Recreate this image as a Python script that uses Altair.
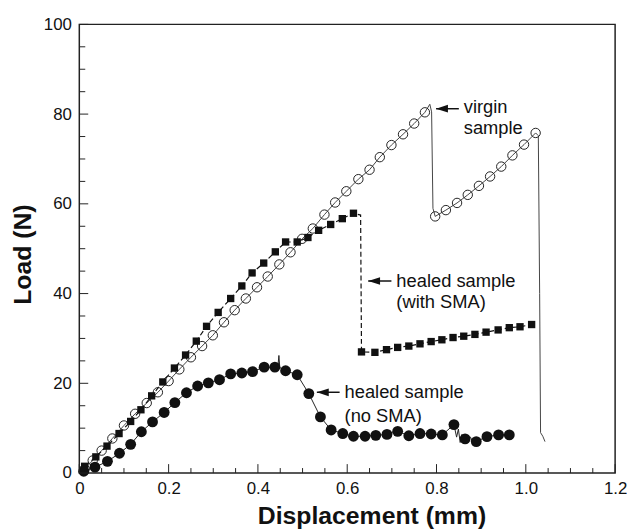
import altair as alt
import pandas as pd

# ---------------- data ----------------
virgin_x = [0.000, 0.012, 0.030, 0.050, 0.074, 0.100, 0.125, 0.151, 0.176, 0.200,
            0.224, 0.250, 0.275, 0.299, 0.324, 0.348, 0.373, 0.398, 0.422, 0.448,
            0.473, 0.499, 0.523, 0.549, 0.573, 0.598, 0.625, 0.650, 0.673, 0.699,
            0.725, 0.750, 0.774, 0.785, 0.789, 0.792, 0.797, 0.821, 0.846, 0.870,
            0.895, 0.920, 0.945, 0.970, 0.996, 1.022, 1.028, 1.031, 1.033, 1.038, 1.043]
virgin_y = [0.0, 0.9, 2.8, 5.0, 7.7, 10.6, 13.2, 15.6, 18.0, 20.5,
            23.1, 25.8, 28.3, 30.7, 33.6, 36.3, 38.9, 41.4, 43.8, 46.5,
            49.2, 52.2, 54.5, 57.6, 60.3, 62.8, 65.5, 67.6, 70.4, 73.1,
            75.5, 77.9, 80.4, 82.2, 80.5, 59.0, 57.2, 58.6, 60.2, 62.0,
            64.0, 66.1, 68.3, 70.8, 73.2, 75.8, 75.2, 40.0, 9.0, 8.2, 7.0]
virgin_mark = [0, 1, 1, 1, 1, 1, 1, 1, 1, 1,
               1, 1, 1, 1, 1, 1, 1, 1, 1, 1,
               1, 1, 1, 1, 1, 1, 1, 1, 1, 1,
               1, 1, 1, 0, 0, 0, 1, 1, 1, 1,
               1, 1, 1, 1, 1, 1, 0, 0, 0, 0, 0]

sma_x = [0.000, 0.012, 0.037, 0.062, 0.089, 0.115, 0.138, 0.162, 0.187, 0.213,
         0.238, 0.262, 0.285, 0.311, 0.339, 0.364, 0.387, 0.413, 0.439, 0.462,
         0.488, 0.512, 0.536, 0.563, 0.589, 0.614, 0.630, 0.632, 0.662, 0.688,
         0.713, 0.738, 0.763, 0.788, 0.812, 0.837, 0.861, 0.886, 0.911, 0.938,
         0.963, 0.987, 1.013]
sma_y = [0.5, 1.5, 3.6, 6.0, 8.8, 11.5, 14.1, 17.2, 20.3, 23.4,
         26.3, 29.4, 32.7, 35.8, 38.9, 41.7, 44.6, 46.8, 49.3, 51.5,
         51.5, 52.5, 54.1, 55.4, 56.7, 57.9, 57.5, 27.0, 26.9, 27.5,
         28.0, 28.3, 28.8, 29.3, 29.7, 30.2, 30.5, 30.9, 31.4, 31.9,
         32.4, 32.6, 33.1]
sma_mark = [0, 1, 1, 1, 1, 1, 1, 1, 1, 1,
            1, 1, 1, 1, 1, 1, 1, 1, 1, 1,
            1, 1, 1, 1, 1, 1, 0, 1, 1, 1,
            1, 1, 1, 1, 1, 1, 1, 1, 1, 1,
            1, 1, 1]

nosma_x = [0.000, 0.010, 0.035, 0.063, 0.090, 0.115, 0.139, 0.164, 0.190, 0.214,
           0.240, 0.265, 0.289, 0.314, 0.339, 0.364, 0.388, 0.414, 0.438, 0.445,
           0.447, 0.449, 0.462, 0.488, 0.514, 0.540, 0.564, 0.590, 0.614, 0.640,
           0.664, 0.689, 0.713, 0.738, 0.763, 0.788, 0.813, 0.839, 0.845, 0.849,
           0.853, 0.857, 0.864, 0.876, 0.880, 0.889, 0.913, 0.939, 0.963]
nosma_y = [0.0, 0.4, 1.3, 2.6, 4.4, 6.4, 9.2, 11.4, 13.5, 15.7,
           17.9, 19.4, 20.1, 20.8, 22.1, 22.3, 22.6, 23.6, 23.6, 24.0,
           26.2, 23.5, 22.8, 21.9, 17.7, 12.5, 9.6, 8.8, 8.2, 8.2,
           8.4, 8.6, 9.3, 8.3, 8.8, 8.7, 8.5, 10.8, 8.0, 9.8,
           6.8, 8.6, 7.6, 8.0, 7.2, 7.0, 8.1, 8.5, 8.5]
nosma_mark = [0, 1, 1, 1, 1, 1, 1, 1, 1, 1,
              1, 1, 1, 1, 1, 1, 1, 1, 1, 0,
              0, 0, 1, 1, 1, 1, 1, 1, 1, 1,
              1, 1, 1, 1, 1, 1, 1, 1, 0, 0,
              0, 0, 1, 0, 0, 1, 1, 1, 1]

x_major = [0, 0.2, 0.4, 0.6, 0.8, 1.0, 1.2]
x_minor = [0.05, 0.1, 0.15, 0.25, 0.3, 0.35, 0.45, 0.5, 0.55, 0.65, 0.7, 0.75,
           0.85, 0.9, 0.95, 1.05, 1.1, 1.15]
y_major = [0, 20, 40, 60, 80, 100]
y_minor = [5, 10, 15, 25, 30, 35, 45, 50, 55, 65, 70, 75, 85, 90, 95]

ann_text = ["virgin", "sample", "healed sample", "(with SMA)", "healed sample", "(no SMA)"]
ann_text_x = [0.861, 0.861, 0.710, 0.710, 0.594, 0.594]
ann_text_y = [81.5, 76.8, 42.8, 38.0, 18.0, 12.8]
arrow_tip_x = [0.799, 0.647, 0.532]
arrow_tip_y = [81.2, 42.8, 18.0]
arrow_end_x = [0.850, 0.699, 0.583]

FONT = "Liberation Sans"
W, H = 541, 453

# ---------------- frames ----------------
def series_df(xs, ys, ms):
    return pd.DataFrame({"x": xs, "y": ys, "m": ms, "i": list(range(len(xs)))})

virgin = series_df(virgin_x, virgin_y, virgin_mark)
sma = series_df(sma_x, sma_y, sma_mark)
nosma = series_df(nosma_x, nosma_y, nosma_mark)

xticks = pd.DataFrame({"x": x_major + x_minor,
                       "len": [9] * len(x_major) + [5] * len(x_minor)})
yticks = pd.DataFrame({"y": y_major + y_minor,
                       "len": [9] * len(y_major) + [6] * len(y_minor)})
texts = pd.DataFrame({"x": ann_text_x, "y": ann_text_y, "t": ann_text})
arrows = pd.DataFrame({"x": arrow_tip_x, "y": arrow_tip_y, "x2": arrow_end_x})

xscale = alt.Scale(domain=[0, 1.2], nice=False, zero=False)
yscale = alt.Scale(domain=[0, 100], nice=False, zero=False)
xaxis = alt.Axis(values=x_major, title="Displacement (mm)", titleX=295,
                 titlePadding=7,
                 labelExpr="datum.value == 0 ? '0' : format(datum.value, '.1f')")
yaxis = alt.Axis(values=y_major, title="Load (N)", titleY=232, titlePadding=8)


def X(f="x"):
    return alt.X(f"{f}:Q", scale=xscale, axis=xaxis)


def Y(f="y"):
    return alt.Y(f"{f}:Q", scale=yscale, axis=yaxis)


base_v = alt.Chart(virgin)
base_s = alt.Chart(sma)
base_n = alt.Chart(nosma)

virgin_line = base_v.mark_line(color="#444", strokeWidth=1).encode(
    x=X(), y=Y(), order="i:Q")
virgin_pts = base_v.transform_filter("datum.m == 1").mark_point(
    shape="circle", filled=False, size=90, stroke="#222", strokeWidth=1, opacity=1
).encode(x=X(), y=Y())

sma_line = base_s.mark_line(color="#111", strokeWidth=1.2, strokeDash=[5, 3]).encode(
    x=X(), y=Y(), order="i:Q")
sma_pts = base_s.transform_filter("datum.m == 1").mark_square(
    size=55, color="#111", opacity=1).encode(x=X(), y=Y())

nosma_line = base_n.mark_line(color="#222", strokeWidth=1).encode(
    x=X(), y=Y(), order="i:Q")
nosma_pts = base_n.transform_filter("datum.m == 1").mark_point(
    shape="circle", filled=True, size=120, color="#111", opacity=1
).encode(x=X(), y=Y())

# inward ticks
xtick_major = alt.Chart(xticks).transform_filter("datum.len == 9").mark_rule(
    color="#222", strokeWidth=1).encode(x=X(), y=alt.value(H), y2=alt.value(H - 9))
xtick_minor = alt.Chart(xticks).transform_filter("datum.len == 5").mark_rule(
    color="#222", strokeWidth=1).encode(x=X(), y=alt.value(H), y2=alt.value(H - 5))
ytick_major = alt.Chart(yticks).transform_filter("datum.len == 9").mark_rule(
    color="#222", strokeWidth=1).encode(y=Y(), x=alt.value(0), x2=alt.value(9))
ytick_minor = alt.Chart(yticks).transform_filter("datum.len == 6").mark_rule(
    color="#222", strokeWidth=1).encode(y=Y(), x=alt.value(0), x2=alt.value(6))

arrow_shaft = alt.Chart(arrows).mark_rule(color="#111", strokeWidth=1.5).encode(
    x=X(), x2="x2:Q", y=Y())
arrow_head = alt.Chart(arrows).mark_point(
    shape="M0,0L2,-0.65L2,0.65Z", filled=True, size=144, color="#111", opacity=1
).encode(x=X(), y=Y())

text_layer = alt.Chart(texts).mark_text(
    align="left", baseline="middle", font=FONT, fontSize=18.5, color="#111"
).encode(x=X(), y=Y(), text="t:N")

chart = alt.layer(
    virgin_line, sma_line, nosma_line,
    virgin_pts, sma_pts, nosma_pts,
    xtick_major, xtick_minor, ytick_major, ytick_minor,
    arrow_shaft, arrow_head, text_layer,
).properties(
    width=W, height=H,
    autosize=alt.AutoSizeParams(type="none"),
    padding={"left": 72, "top": 14, "right": 12, "bottom": 56},
    background="white",
).configure_view(
    stroke="#222", strokeWidth=1.5
).configure_axis(
    ticks=False, tickSize=0, domain=False, grid=False,
    labelFont=FONT, labelFontSize=17, labelColor="#111", labelPadding=8,
    labelFlush=False, labelOverlap=False,
    titleFont=FONT, titleFontSize=25, titleFontWeight="bold", titleColor="#111",
)

chart.save("out.html", embed_options={"renderer": "svg", "actions": False})
